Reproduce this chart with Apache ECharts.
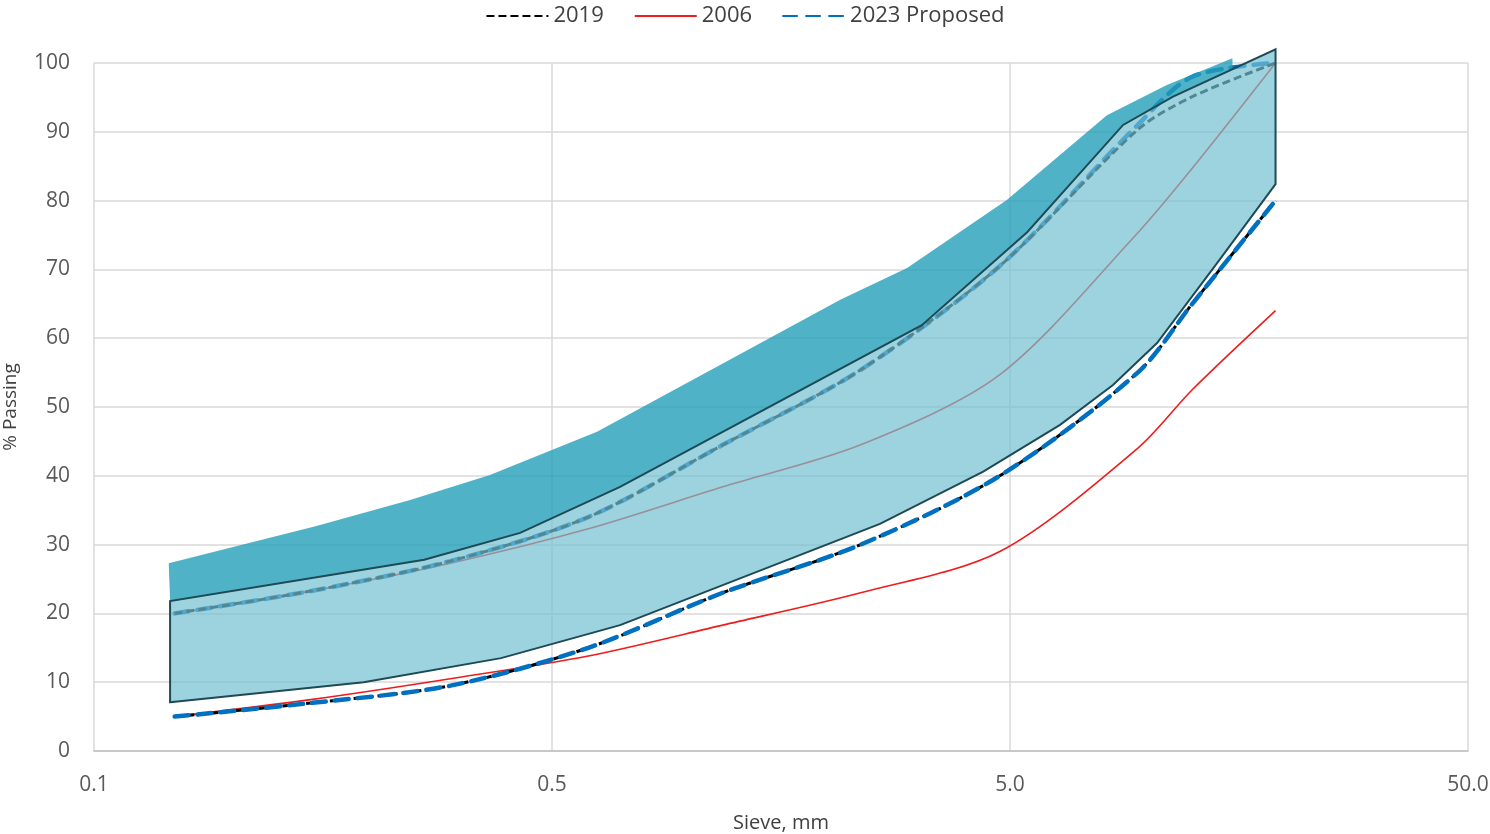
<!DOCTYPE html>
<html>
<head>
<meta charset="utf-8">
<script src="https://cdn.jsdelivr.net/npm/echarts@6.0.0/dist/echarts.min.js"></script>
<style>
  html, body { margin: 0; padding: 0; background: #fff; }
  #chart { width: 1490px; height: 834px; }
</style>
</head>
<body>
<div id="chart"></div>
<script>
// sieve sizes (mm) used by the spec lines
const sieves = [0.075, 0.15, 0.3, 0.6, 1.18, 2.36, 4.75, 9.5, 12.5, 19];
const lower2019 = [5, 7, 9.5, 15, 23, 30, 40, 55, 65, 80];
const upper2019 = [20, 23.3, 27.6, 34, 44.5, 55.4, 70.5, 90.3, 95.1, 100];
const lower2006 = [5, 7.5, 10.5, 13.8, 18.3, 23, 29, 44, 52.5, 64];
const upper2006 = [20, 23.3, 27.3, 32.3, 38.4, 44.5, 54.7, 75.3, 84.7, 100];
const lower2023 = [5, 7, 9.5, 15, 23, 30, 40, 55, 65, 80];
const upper2023 = [20, 23.3, 27.6, 34, 44.5, 55.4, 70.5, 91, 98, 100];

// shaded band (light) - lower and upper edges
const bandLowX = [0.0733, 0.194, 0.387, 0.704, 2.6, 4.37, 6.43, 8.39, 10.47, 14.16, 19];
const bandLowY = [7.1, 10.0, 13.5, 18.3, 33.0, 40.6, 47.4, 53.2, 59.3, 70.9, 82.4];
const bandHighX = [0.0733, 0.263, 0.426, 0.704, 3.21, 5.45, 8.83, 11.35, 19];
const bandHighY = [21.8, 27.8, 31.7, 38.4, 61.9, 75.4, 91.0, 95.1, 102.0];

// outer envelope (dark)
const outerX = [0.0728, 0.153, 0.245, 0.366, 0.627, 2.13, 2.98, 4.92, 8.14, 11.0, 15.3];
const outerY = [27.3, 32.7, 36.5, 40.1, 46.4, 65.6, 70.2, 80.1, 92.4, 96.8, 100.7];

// axis ticks
const xTicks = [0.05, 0.5, 5, 50];
const xTickLabels = ['0.1', '0.5', '5.0', '50.0'];

function pairs(xs, ys) {
    return xs.map((x, i) => [x, ys[i]]);
}

// y on the upper band edge at x (log interpolation)
function highAt(x) {
    for (let i = 1; i < bandHighX.length; i++) {
        if (x <= bandHighX[i]) {
            const t = Math.log(x / bandHighX[i - 1]) / Math.log(bandHighX[i] / bandHighX[i - 1]);
            return bandHighY[i - 1] + t * (bandHighY[i] - bandHighY[i - 1]);
        }
    }
    return bandHighY[bandHighY.length - 1];
}

const lightPts = pairs(bandLowX, bandLowY).concat(pairs(bandHighX, bandHighY).reverse());

const outerEnd = outerX[outerX.length - 1];
const darkBottom = [[outerEnd, highAt(outerEnd)]].concat(
    pairs(bandHighX, bandHighY).filter(p => p[0] < outerEnd).reverse()
);
const darkPts = pairs(outerX, outerY).concat(darkBottom);

function polygon(pts, style, z) {
    return {
        type: 'custom',
        silent: true,
        z: z,
        data: [pts[0]],
        renderItem: function (params, api) {
            return {
                type: 'polygon',
                shape: { points: pts.map(p => api.coord(p)) },
                style: style
            };
        }
    };
}

const style2019 = { color: '#000000', width: 3, type: [8, 4] };
const style2006 = { color: '#ee1c1c', width: 1.6, type: 'solid' };
const style2023 = { color: '#0070c0', width: 4.5, type: [14, 9], cap: 'round' };

function line(name, ys, lineStyle) {
    return {
        name: name,
        type: 'line',
        data: pairs(sieves, ys),
        symbol: 'none',
        smooth: 0.3,
        lineStyle: lineStyle,
        itemStyle: { color: lineStyle.color },
        z: 2
    };
}

const chart = echarts.init(document.getElementById('chart'));
chart.setOption({
    animation: false,
    legend: {
        data: ['2019', '2006', '2023 Proposed'],
        top: 0,
        left: 'center',
        itemWidth: 62,
        itemHeight: 14,
        itemGap: 30,
        itemStyle: { opacity: 0 },
        textStyle: { fontFamily: 'Open Sans', fontSize: 22, color: '#404040' }
    },
    grid: { left: 94, right: 22, top: 63, bottom: 83, outerBoundsMode: 'none' },
    xAxis: {
        type: 'log',
        logBase: 10,
        min: 0.05,
        max: 50,
        name: 'Sieve, mm',
        nameLocation: 'middle',
        nameGap: 62,
        nameTextStyle: { fontFamily: 'Open Sans', fontSize: 20, color: '#404040' },
        axisLine: { show: true, lineStyle: { color: '#c0c0c0', width: 1.5 } },
        axisTick: { show: false, customValues: xTicks },
        axisLabel: {
            customValues: xTicks,
            margin: 24,
            fontFamily: 'Open Sans',
            fontSize: 21,
            color: '#595959',
            formatter: function (v) {
                const i = Math.round(Math.log10(v / xTicks[0]));
                return xTickLabels[i];
            }
        },
        splitLine: { show: true, lineStyle: { color: '#d9d9d9', width: 1.5 } }
    },
    yAxis: {
        type: 'value',
        min: 0,
        max: 100,
        interval: 10,
        name: '% Passing',
        nameLocation: 'middle',
        nameGap: 74,
        nameRotate: 90,
        nameTextStyle: { fontFamily: 'Open Sans', fontSize: 19, color: '#404040' },
        axisLine: { show: false },
        axisTick: { show: false },
        axisLabel: { margin: 24, fontFamily: 'Open Sans', fontSize: 21, color: '#595959' },
        splitLine: { lineStyle: { color: '#d9d9d9', width: 1.5 } }
    },
    series: [
        line('2006', lower2006, style2006),
        line('2006', upper2006, style2006),
        line('2023 Proposed', upper2023, style2023),
        line('2019', upper2019, style2019),
        line('2019', lower2019, style2019),
        line('2023 Proposed', lower2023, style2023),
        polygon(darkPts, { fill: 'rgba(35,159,185,0.8)', stroke: null }, 3),
        polygon(lightPts, { fill: 'rgba(115,192,209,0.7)', stroke: '#1d4a55', lineWidth: 2 }, 4)
    ]
});
</script>
</body>
</html>
